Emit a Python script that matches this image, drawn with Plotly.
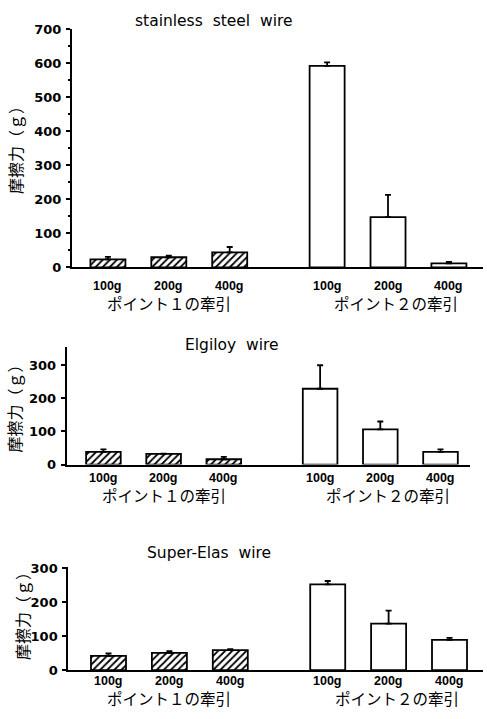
import plotly.graph_objects as go

# ---------------- data ----------------
loads = ["100g", "200g", "400g"]
groups = ["ポイント１の牽引", "ポイント２の牽引"]
titles = ["stainless  steel  wire", "Elgiloy  wire", "Super-Elas  wire"]
y_title = "摩擦力（ｇ）"

# mean friction (g) and top of error bar (g), point1 then point2
ss_p1 = [24, 30, 44]
ss_p1_err = [31, 35, 60]
ss_p2 = [592, 148, 12]
ss_p2_err = [602, 213, 16]

el_p1 = [38, 32, 16]
el_p1_err = [46, 33, 23]
el_p2 = [229, 106, 38]
el_p2_err = [300, 130, 46]

se_p1 = [42, 51, 59]
se_p1_err = [49, 56, 62]
se_p2 = [252, 137, 89]
se_p2_err = [262, 175, 95]

y_max = [700, 355, 302]
y_ticks = [list(range(0, 701, 100)), list(range(0, 301, 100)), list(range(0, 301, 100))]

# ---------------- layout helpers ----------------
W, H = 487, 719
GAP = 0.6
pos_p1 = [i for i in range(len(loads))]
pos_p2 = [i + len(loads) + GAP for i in range(len(loads))]

panels = [
    dict(p1=ss_p1, p1e=ss_p1_err, p2=ss_p2, p2e=ss_p2_err,
         xpx=(72, 483), ypx=(22.5, 266), xr=(-0.59, 6.16),
         title_px=(214, 14), ytitle_px=(15, 142), load_y=285, group_y=302),
    dict(p1=el_p1, p1e=el_p1_err, p2=el_p2, p2e=el_p2_err,
         xpx=(66.7, 470), ypx=(347.3, 467.3), xr=(-0.61, 6.09),
         title_px=(232, 345), ytitle_px=(14, 406), load_y=481.5, group_y=498.5),
    dict(p1=se_p1, p1e=se_p1_err, p2=se_p2, p2e=se_p2_err,
         xpx=(68.3, 483), ypx=(572.3, 677.3), xr=(-0.66, 6.15),
         title_px=(209, 558), ytitle_px=(22, 618), load_y=688, group_y=706),
]

fig = go.Figure()
annotations = []
BW = 0.575
tick_font = dict(family="Liberation Sans", size=12.5, color="black", weight="bold")

for k, p in enumerate(panels):
    xa = "x" if k == 0 else f"x{k+1}"
    ya = "y" if k == 0 else f"y{k+1}"
    # point 1: hatched
    fig.add_trace(go.Bar(
        x=pos_p1, y=p["p1"], width=BW, xaxis=xa, yaxis=ya,
        marker=dict(color="white", line=dict(color="black", width=1.8),
                    pattern=dict(shape="/", fgcolor="black", bgcolor="white",
                                 fgopacity=1, size=5, solidity=0.35)),
        error_y=dict(type="data", symmetric=False,
                     array=[e - v for e, v in zip(p["p1e"], p["p1"])],
                     arrayminus=[0] * 3, color="black", thickness=1.8, width=3),
        showlegend=False,
    ))
    # point 2: white
    fig.add_trace(go.Bar(
        x=pos_p2, y=p["p2"], width=BW, xaxis=xa, yaxis=ya,
        marker=dict(color="white", line=dict(color="black", width=1.8)),
        error_y=dict(type="data", symmetric=False,
                     array=[e - v for e, v in zip(p["p2e"], p["p2"])],
                     arrayminus=[0] * 3, color="black", thickness=1.8, width=3),
        showlegend=False,
    ))

    xd = [p["xpx"][0] / W, p["xpx"][1] / W]
    yd = [1 - p["ypx"][1] / H, 1 - p["ypx"][0] / H]
    xkey = "xaxis" if k == 0 else f"xaxis{k+1}"
    ykey = "yaxis" if k == 0 else f"yaxis{k+1}"
    fig.update_layout(**{
        xkey: dict(domain=xd, range=list(p["xr"]), anchor=ya,
                   showline=True, linecolor="black", linewidth=2,
                   showgrid=False, zeroline=False, ticks="",
                   showticklabels=False),
        ykey: dict(domain=yd, range=[0, y_max[k]], anchor=xa,
                   showline=True, linecolor="black", linewidth=2,
                   showgrid=False, zeroline=False,
                   ticks="outside", ticklen=4, tickwidth=2, tickcolor="black",
                   tickvals=y_ticks[k], ticklabelstandoff=2,
                   minor=dict(ticks="outside", ticklen=2, tickwidth=1.5,
                              dtick=50, tickcolor="black") if k == 0 else None,
                   tickfont=dict(family="DejaVu Sans", size=13, color="black",
                                 weight="bold")),
    })

    # load labels under each bar
    for xv, lab in zip(pos_p1 + pos_p2, loads + loads):
        annotations.append(dict(
            text=lab, x=xv, y=1 - p["load_y"] / H, xref=xa, yref="paper",
            xanchor="center", yanchor="middle", showarrow=False,
            font=tick_font))

    annotations.append(dict(
        text=titles[k], x=p["title_px"][0] / W, y=1 - p["title_px"][1] / H,
        xref="paper", yref="paper", xanchor="center", yanchor="middle",
        showarrow=False, font=dict(family="DejaVu Sans", size=15.5, color="black")))
    annotations.append(dict(
        text=y_title, x=p["ytitle_px"][0] / W, y=1 - p["ytitle_px"][1] / H,
        xref="paper", yref="paper", xanchor="center", yanchor="middle",
        textangle=-90, showarrow=False,
        font=dict(family="Noto Sans CJK JP", size=16, color="black")))
    for g, gpos, shift in zip(groups, [pos_p1, pos_p2], [0, 8]):
        annotations.append(dict(
            text=g, x=sum(gpos) / len(gpos), xshift=shift,
            y=1 - p["group_y"] / H,
            xref=xa, yref="paper", xanchor="center", yanchor="middle",
            showarrow=False,
            font=dict(family="Noto Sans CJK JP", size=15.5, color="black")))

fig.update_layout(
    width=W, height=H, margin=dict(l=0, r=0, t=0, b=0),
    paper_bgcolor="white", plot_bgcolor="white",
    barmode="overlay", annotations=annotations,
)

fig.write_html("out.html")
